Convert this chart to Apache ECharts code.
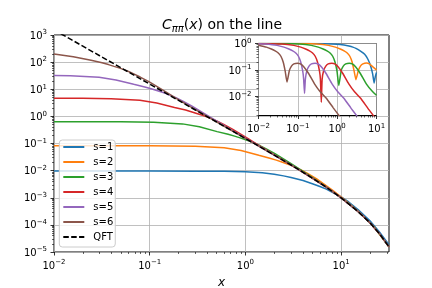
<!DOCTYPE html>
<html><head><meta charset="utf-8">
<script src="https://cdn.jsdelivr.net/npm/echarts@6/dist/echarts.min.js"></script>
<style>html,body{margin:0;padding:0;background:#fff}#c{width:432px;height:288px}</style>
</head><body><div id="c"></div>
<script>
// ---------- data ----------
const seriesNames = ['s=1','s=2','s=3','s=4','s=5','s=6'];
const colors = ['#1f77b4','#ff7f0e','#2ca02c','#d62728','#9467bd','#8c564b'];

const main_s1 = [[0.01,0.0096],[0.1,0.0096],[0.3,0.00956],[0.6,0.0094],[1,0.0091],[1.5,0.0083],[2,0.0074],[2.5,0.0064],[3,0.0056],[4,0.0043],[5,0.00328],[6,0.0026],[7,0.00208],[8,0.00163],[8.9,0.00134],[10,0.001074],[12,0.000699],[15,0.000367],[20,0.0001416],[25,0.0000563],[31.62,0.0000185]];
const main_s2 = [[0.01,0.083],[0.1,0.0828],[0.3,0.0793],[0.6,0.0697],[0.9,0.0552],[1.38,0.0368],[1.8,0.02877],[2.1,0.02434],[2.4,0.02073],[2.7,0.01803],[3.0,0.01578],[3.45,0.01266],[3.9,0.01018],[4.5,0.00772],[5.55,0.004957],[8.1,0.001922],[10.5,0.000937],[15,0.00032],[21,0.0001035],[31.62,0.0000156]];
const main_s3 = [[0.01,0.63],[0.05,0.627],[0.11,0.602],[0.22,0.529],[0.33,0.416],[0.506,0.274],[0.66,0.2195],[0.77,0.1869],[0.88,0.1609],[0.99,0.1408],[1.1,0.1239],[1.265,0.1009],[1.43,0.0823],[1.65,0.0637],[2.035,0.04258],[2.97,0.01854],[3.85,0.01014],[5.5,0.004423],[7.7,0.001963],[11,0.000775],[15,0.000312],[22,0.000085],[31.62,0.0000155]];
const main_s4 = [[0.01,4.69],[0.02,4.66],[0.0395,4.49],[0.079,3.95],[0.1185,3.10],[0.1817,2.14],[0.237,1.711],[0.2765,1.459],[0.316,1.257],[0.3555,1.103],[0.395,0.971],[0.454,0.795],[0.5135,0.65],[0.5925,0.505],[0.731,0.34],[1.067,0.1521],[1.38,0.0857],[1.975,0.03955],[3.95,0.00901],[7.9,0.001817],[10,0.000994],[15,0.000311],[20,0.00012],[25,0.0000485],[31.62,0.0000155]];
const main_s5 = [[0.01,32.3],[0.0148,31.5],[0.0296,27.7],[0.0444,21.8],[0.0681,15.2],[0.0888,12.2],[0.1036,10.4],[0.1184,8.96],[0.1332,7.87],[0.148,6.94],[0.1702,5.67],[0.1924,4.65],[0.222,3.62],[0.274,2.44],[0.4,1.095],[0.518,0.621],[0.74,0.2896],[1.48,0.0697],[2.96,0.01655],[5,0.00531],[7,0.00245],[10,0.000994],[15,0.000311],[20,0.00012],[25,0.0000485],[31.62,0.0000155]];
const main_s6 = [[0.01,200],[0.0159,158],[0.0244,118],[0.0318,94.9],[0.0371,81.1],[0.0424,69.8],[0.0477,61.3],[0.053,54.1],[0.061,44.2],[0.0689,36.2],[0.0795,28.2],[0.098,19.0],[0.143,8.57],[0.1855,4.84],[0.265,2.27],[0.53,0.557],[1.06,0.1365],[2,0.0374],[3,0.0161],[5,0.00531],[7,0.00245],[10,0.000994],[15,0.000311],[20,0.00012],[25,0.0000485],[31.62,0.0000155]];
const main_qft = [[0.01,1550],[0.015,689],[0.02,388],[0.03,172],[0.05,62],[0.07,31.6],[0.1,15.5],[0.15,6.89],[0.2,3.87],[0.3,1.72],[0.5,0.619],[0.7,0.316],[1,0.153],[1.5,0.0676],[2,0.0374],[3,0.0161],[4,0.00869],[5,0.00531],[7,0.00245],[10,0.000994],[15,0.000311],[20,0.00012],[25,0.0000485],[31.62,0.0000155]];

const inset_s1 = [[0.01,0.9999],[0.1,0.9994],[0.5,0.985],[1,0.94],[1.5,0.87],[2,0.80],[2.5,0.73],[3,0.65],[4,0.5],[5,0.39],[6,0.26],[7,0.15],[8,0.07],[8.7,0.032],[9.3,0.055],[10,0.08]];
const inset_s2 = [[0.01,1],[0.15,0.99],[0.3,0.955],[0.6,0.85],[0.9,0.73],[1.2,0.62],[1.5,0.53],[1.8,0.44],[2.1,0.33],[2.4,0.2],[2.7,0.09],[3.0,0.043],[3.45,0.095],[3.9,0.14],[4.5,0.17],[5.55,0.185],[6.6,0.17],[8.1,0.13],[10,0.1]];
const inset_s3 = [[0.01,1],[0.055,0.99],[0.11,0.955],[0.22,0.85],[0.33,0.73],[0.44,0.62],[0.55,0.53],[0.66,0.44],[0.77,0.33],[0.88,0.2],[0.99,0.09],[1.1,0.026],[1.265,0.095],[1.43,0.14],[1.65,0.17],[2.035,0.18],[2.42,0.17],[2.97,0.13],[3.85,0.075],[5.5,0.03],[7.7,0.016],[10,0.011]];
const inset_s4 = [[0.01,0.997],[0.0395,0.955],[0.079,0.85],[0.1185,0.73],[0.158,0.62],[0.1975,0.53],[0.237,0.44],[0.2765,0.33],[0.316,0.2],[0.3555,0.09],[0.375,0.045],[0.395,0.006],[0.415,0.045],[0.454,0.095],[0.5135,0.14],[0.5925,0.17],[0.731,0.18],[0.869,0.17],[1.067,0.13],[1.38,0.075],[1.975,0.03],[2.765,0.015],[3.95,0.0085],[5.93,0.0037],[7.9,0.0021],[9.875,0.0013]];
const inset_s5 = [[0.01,0.98],[0.0148,0.955],[0.0296,0.85],[0.0444,0.73],[0.0592,0.62],[0.074,0.53],[0.0888,0.44],[0.1036,0.33],[0.1184,0.2],[0.1332,0.09],[0.1406,0.045],[0.148,0.013],[0.1554,0.045],[0.1702,0.095],[0.1924,0.14],[0.222,0.17],[0.274,0.18],[0.326,0.17],[0.4,0.13],[0.518,0.075],[0.74,0.03],[1.036,0.015],[1.48,0.0085],[2.22,0.0037],[2.96,0.0021],[3.7,0.0013]];
const inset_s6 = [[0.01,0.86],[0.0159,0.73],[0.0212,0.62],[0.0265,0.53],[0.0318,0.44],[0.0371,0.33],[0.0424,0.2],[0.0477,0.09],[0.053,0.035],[0.061,0.095],[0.0689,0.14],[0.0795,0.17],[0.098,0.18],[0.117,0.17],[0.143,0.13],[0.186,0.075],[0.265,0.03],[0.371,0.015],[0.53,0.0085],[0.795,0.0037],[1.06,0.0021],[1.33,0.0013]];

const mainXTicks = [0.01,0.1,1,10];
const mainXExps  = ['\u22122','\u22121','0','1'];
const mainYTicks = [1e-5,1e-4,1e-3,1e-2,1e-1,1,10,100,1000];
const mainYExps  = ['\u22125','\u22124','\u22123','\u22122','\u22121','0','1','2','3'];
const insetXTicks = [0.01,0.1,1,10];
const insetXExps  = ['\u22122','\u22121','0','1'];
const insetYTicks = [0.01,0.1,1];
const insetYExps  = ['\u22122','\u22121','0'];
const minorMult = [2,3,4,5,6,7,8,9];

const MAIN_X = [0.01, 31.6228], MAIN_Y = [1e-5, 1e3];
const INSET_X = [0.01, 10], INSET_Y = [0.0019, 1];

// ---------- helpers ----------
const G = 'DejaVu Sans';
function minors(decades, lo, hi) {
  const out = [];
  decades.forEach(d => minorMult.forEach(m => { const v = m * Math.pow(10, d); if (v > lo && v < hi) out.push(v); }));
  return out;
}
function nudge(arr, lo, hi) { return arr.map(v => Math.min(Math.max(v, lo * (1 + 1e-7)), hi * (1 - 1e-7))); }
function lbl(ticks, exps) {
  return v => {
    for (let i = 0; i < ticks.length; i++) {
      if (Math.abs(Math.log10(v) - Math.log10(ticks[i])) < 1e-4) return '{b|10}{s|' + exps[i] + '}';
    }
    return '';
  };
}
const rich = {
  b: {fontSize: 10, lineHeight: 12, verticalAlign: 'bottom', fontFamily: G, color: '#000'},
  s: {fontSize: 7, lineHeight: 7, verticalAlign: 'top', fontFamily: G, color: '#000'}
};
function majAxis(gridIndex, ext, ticks, exps, extra) {
  const t = nudge(ticks, ext[0], ext[1]);
  return Object.assign({
    type: 'log', logBase: 10, gridIndex, min: ext[0], max: ext[1],
    axisLine: {show: false, onZero: false},
    axisTick: {show: true, inside: false, length: 3.5, lineStyle: {color: '#000', width: 0.8}, customValues: t},
    axisLabel: {show: true, customValues: t, margin: 7, formatter: lbl(ticks, exps), rich, color: '#000', fontFamily: G, fontSize: 10},
    splitLine: {show: true, lineStyle: {color: '#b0b0b0', width: 0.8}},
    minorTick: {show: false}, minorSplitLine: {show: false}
  }, extra || {});
}
function minAxis(gridIndex, ext, vals, extra) {
  return Object.assign({
    type: 'log', logBase: 10, gridIndex, min: ext[0], max: ext[1],
    axisLine: {show: false, onZero: false},
    axisTick: {show: true, inside: false, length: 2, lineStyle: {color: '#000', width: 0.6}, customValues: nudge(vals, ext[0], ext[1])},
    axisLabel: {show: false},
    splitLine: {show: false}, minorTick: {show: false}, minorSplitLine: {show: false}
  }, extra || {});
}

const mainData = [main_s1, main_s2, main_s3, main_s4, main_s5, main_s6];
const insetData = [inset_s1, inset_s2, inset_s3, inset_s4, inset_s5, inset_s6];

const series = [];
mainData.forEach((d, i) => series.push({
  type: 'line', name: seriesNames[i], data: d, xAxisIndex: 0, yAxisIndex: 0,
  symbol: 'none', smooth: false, clip: true, z: 2,
  lineStyle: {color: colors[i], width: 1.5}, itemStyle: {color: colors[i]}
}));
series.push({
  type: 'line', name: 'QFT', data: main_qft, xAxisIndex: 0, yAxisIndex: 0,
  symbol: 'none', smooth: false, clip: true, z: 2,
  lineStyle: {color: '#000', width: 1.5, type: [5.5, 2.4]}, itemStyle: {color: '#000'}
});
series.push({
  type: 'custom', name: 'inset-bg', xAxisIndex: 2, yAxisIndex: 2, z: 3, silent: true,
  data: [[1, 0.1]],
  renderItem: (params) => {
    const cs = params.coordSys;
    return {type: 'rect', shape: {x: cs.x, y: cs.y, width: cs.width, height: cs.height},
            style: {fill: '#fff', stroke: '#000', lineWidth: 1}};
  }
});
insetData.forEach((d, i) => series.push({
  type: 'line', name: seriesNames[i], data: d, xAxisIndex: 2, yAxisIndex: 2,
  symbol: 'none', smooth: 0.15, clip: true, z: 5,
  lineStyle: {color: colors[i], width: 1.5}, itemStyle: {color: colors[i]}
}));

const option = {
  animation: false,
  backgroundColor: '#fff',
  textStyle: {fontFamily: G},
  title: {
    text: '{i|C}{sub|\u03c0\u03c0}{n|(}{i|x}{n|) on the line}',
    left: 162, top: 16, padding: 0,
    textStyle: {
      fontFamily: G, fontSize: 14, color: '#000', fontWeight: 'normal',
      rich: {
        i: {fontStyle: 'italic', fontSize: 14, lineHeight: 18, fontFamily: G, color: '#000'},
        n: {fontSize: 14, lineHeight: 18, fontFamily: G, color: '#000'},
        sub: {fontStyle: 'italic', fontSize: 10, lineHeight: 10, verticalAlign: 'bottom', fontFamily: G, color: '#000'}
      }
    }
  },
  legend: {
    show: true, orient: 'vertical', left: 59.3, top: 140,
    itemWidth: 21, itemHeight: 10, itemGap: 5, padding: [2, 2, 5, 3],
    backgroundColor: 'rgba(255,255,255,0.8)', borderColor: '#cccccc', borderWidth: 1, borderRadius: 3,
    itemStyle: {opacity: 0},
    textStyle: {fontSize: 10, fontFamily: G, color: '#000', lineHeight: 10, padding: [0, 0, 0, 4]},
    selectedMode: false,
    data: seriesNames.concat(['QFT'])
  },
  grid: [
    {left: 54, top: 35, width: 335, height: 217, show: true, borderColor: '#000', borderWidth: 1, backgroundColor: 'transparent', containLabel: false, outerBoundsMode: 'none'},
    {left: 258.5, top: 43.5, width: 118, height: 72, show: false, containLabel: false, outerBoundsMode: 'none'}
  ],
  xAxis: [
    majAxis(0, MAIN_X, mainXTicks, mainXExps, {position: 'bottom', name: 'x', nameLocation: 'middle', nameGap: 25,
      nameTextStyle: {fontStyle: 'italic', fontSize: 12, fontFamily: G, color: '#000', lineHeight: 12}}),
    minAxis(0, MAIN_X, minors([-2, -1, 0, 1], MAIN_X[0], MAIN_X[1]), {position: 'bottom'}),
    majAxis(1, INSET_X, insetXTicks, insetXExps, {position: 'bottom', z: 4}),
    minAxis(1, INSET_X, minors([-2, -1, 0], INSET_X[0], INSET_X[1]), {position: 'bottom', z: 4})
  ],
  yAxis: [
    majAxis(0, MAIN_Y, mainYTicks, mainYExps, {position: 'left'}),
    minAxis(0, MAIN_Y, minors([-5, -4, -3, -2, -1, 0, 1, 2], MAIN_Y[0], MAIN_Y[1]), {position: 'left'}),
    majAxis(1, INSET_Y, insetYTicks, insetYExps, {position: 'left', z: 4}),
    minAxis(1, INSET_Y, minors([-3, -2, -1], INSET_Y[0], INSET_Y[1]), {position: 'left', z: 4})
  ],
  series
};
const chart = echarts.init(document.getElementById('c'), null, {renderer: 'canvas', width: 432, height: 288});
chart.setOption(option);
</script></body></html>
